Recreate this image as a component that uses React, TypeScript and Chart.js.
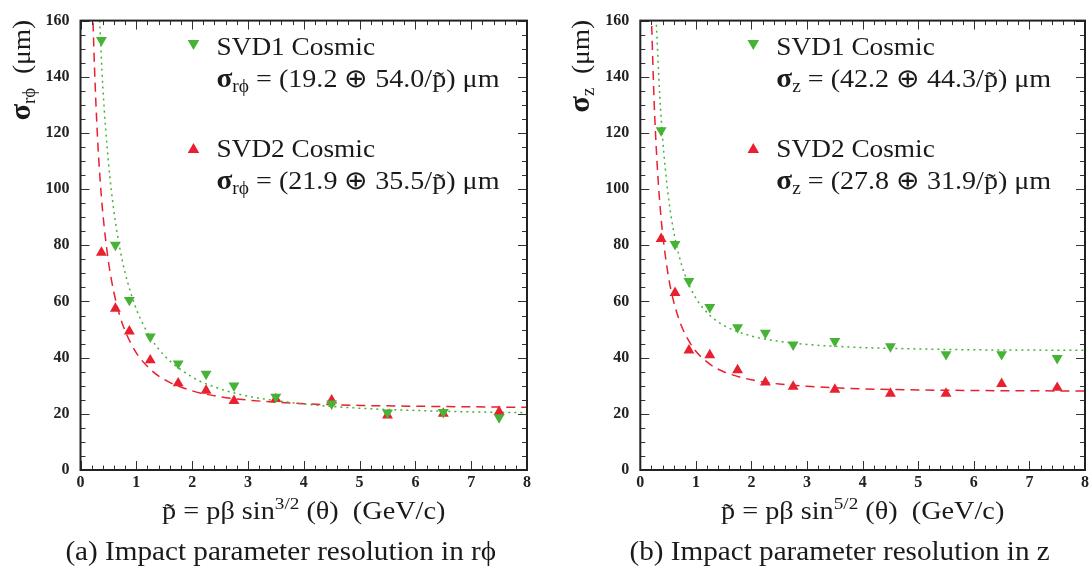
import React, { useEffect, useRef } from "react";
import { Chart, registerables } from "chart.js";

Chart.register(...registerables);

// ---------- data ----------
const pTilde = [0.375, 0.625, 0.875, 1.25, 1.75, 2.25, 2.75, 3.5, 4.5, 5.5, 6.5, 7.5];

const rphiSvd1 = [153, 80.1, 60.5, 47.5, 37.9, 34.2, 30.0, 26.0, 23.6, 20.4, 20.6, 18.7];
const rphiSvd2 = [77.4, 57.5, 49.4, 39.1, 30.9, 28.3, 24.6, 25.3, 24.8, 19.5, 20.1, 20.7];
const zSvd1 = [120.9, 80.4, 67.2, 58.0, 50.8, 48.8, 44.6, 45.9, 44.0, 41.2, 41.2, 39.8];
const zSvd2 = [82.3, 63.1, 42.6, 40.9, 35.6, 31.2, 29.7, 28.6, 27.2, 27.2, 30.7, 29.3];

// fitted curves
const rphiFit1P = [0.343, 0.4, 0.5, 0.6, 0.7, 0.8, 1.0, 1.25, 1.5, 2, 2.5, 3, 4, 5, 6, 7, 8];
const rphiFit1 = [160, 136.4, 109.7, 92.0, 79.5, 70.2, 57.3, 47.3, 40.8, 33.1, 28.9, 26.3, 23.5, 22.0, 21.2, 20.7, 20.4];
const rphiFit2P = [0.225, 0.25, 0.3, 0.35, 0.4, 0.5, 0.6, 0.7, 0.8, 1.0, 1.25, 1.5, 2, 2.5, 3, 4, 5, 6, 7, 8];
const rphiFit2 = [159.3, 143.7, 120.3, 103.8, 91.4, 74.3, 63.1, 55.2, 49.5, 41.7, 35.9, 32.2, 28.2, 26.1, 24.9, 23.6, 23.0, 22.7, 22.5, 22.3];
const zFit1P = [0.29, 0.35, 0.4, 0.5, 0.6, 0.7, 0.8, 1.0, 1.25, 1.5, 2, 2.5, 3, 4, 5, 6, 7, 8];
const zFit1 = [158.5, 133.4, 118.5, 98.1, 85.0, 76.1, 69.6, 61.2, 55.1, 51.5, 47.7, 45.8, 44.7, 43.6, 43.1, 42.8, 42.7, 42.6];
const zFit2P = [0.205, 0.25, 0.3, 0.35, 0.4, 0.5, 0.6, 0.7, 0.8, 1.0, 1.25, 1.5, 2, 2.5, 3, 4, 5, 6, 7, 8];
const zFit2 = [158.1, 130.6, 109.9, 95.3, 84.5, 69.6, 60.0, 53.4, 48.6, 42.3, 37.7, 35.0, 32.1, 30.6, 29.8, 28.9, 28.5, 28.3, 28.2, 28.1];

const xTickValues = [0, 1, 2, 3, 4, 5, 6, 7, 8];
const yTickValues = [0, 20, 40, 60, 80, 100, 120, 140, 160];

const legendNames = ["SVD1 Cosmic", "SVD2 Cosmic"];
const rphiFitText = ["19.2 ⊕ 54.0/", "21.9 ⊕ 35.5/"];
const zFitText = ["42.2 ⊕ 44.3/", "27.8 ⊕ 31.9/"];

// ---------- styles ----------
const GREEN = "#46b236";
const RED = "#e8202f";
const INK = "#1a1a1a";
const FONT = "'Liberation Serif', 'Times New Roman', serif";

type Seg = { t: string; size: number; bold?: boolean; dy?: number; tilde?: boolean };

function segFont(s: Seg) {
  return `${s.bold ? "bold " : ""}${s.size}px ${FONT}`;
}
function richWidth(ctx: CanvasRenderingContext2D, segs: Seg[]) {
  let w = 0;
  for (const s of segs) {
    ctx.font = segFont(s);
    w += ctx.measureText(s.t).width;
  }
  return w;
}
function drawRich(ctx: CanvasRenderingContext2D, segs: Seg[], x: number, y: number, sx = 1) {
  ctx.save();
  ctx.translate(x, y);
  ctx.scale(sx, 1);
  let cx = 0;
  ctx.textBaseline = "alphabetic";
  ctx.textAlign = "left";
  for (const s of segs) {
    ctx.font = segFont(s);
    const w = ctx.measureText(s.t).width;
    ctx.fillText(s.t, cx, s.dy || 0);
    if (s.tilde) {
      const tw = ctx.measureText("˜").width;
      ctx.fillText("˜", cx + (w - tw) / 2, (s.dy || 0) + s.size * 0.08);
    }
    cx += w;
  }
  ctx.restore();
}

type Panel = {
  width: number;
  areaLeft: number;
  padRight: number;
  svd1: number[];
  svd2: number[];
  fit1P: number[];
  fit1: number[];
  fit2P: number[];
  fit2: number[];
  sub: string;
  power: string;
  fitText: string[];
  caption: string;
};

const panels: Panel[] = [
  {
    width: 546, areaLeft: 80.5, padRight: 19,
    svd1: rphiSvd1, svd2: rphiSvd2,
    fit1P: rphiFit1P, fit1: rphiFit1, fit2P: rphiFit2P, fit2: rphiFit2,
    sub: "rϕ", power: "3/2", fitText: rphiFitText,
    caption: "(a) Impact parameter resolution in rϕ",
  },
  {
    width: 546, areaLeft: 94.3, padRight: 6.7,
    svd1: zSvd1, svd2: zSvd2,
    fit1P: zFit1P, fit1: zFit1, fit2P: zFit2P, fit2: zFit2,
    sub: "z", power: "5/2", fitText: zFitText,
    caption: "(b) Impact parameter resolution in z",
  },
];

function triangle(ctx: CanvasRenderingContext2D, x: number, y: number, down: boolean, color: string) {
  const hw = 5.8, hh = 5;
  ctx.beginPath();
  if (down) {
    ctx.moveTo(x - hw, y - hh);
    ctx.lineTo(x + hw, y - hh);
    ctx.lineTo(x, y + hh);
  } else {
    ctx.moveTo(x - hw, y + hh);
    ctx.lineTo(x + hw, y + hh);
    ctx.lineTo(x, y - hh);
  }
  ctx.closePath();
  ctx.fillStyle = color;
  ctx.fill();
}

function makeConfig(panel: Panel): any {
  const fitLine = (px: number[], py: number[], color: string, dash: number[]) => ({
    data: px.map((x, i) => ({ x, y: py[i] })),
    showLine: true,
    borderColor: color,
    borderWidth: 1.5,
    borderDash: dash,
    pointRadius: 0,
    fill: false,
    cubicInterpolationMode: "monotone",
    order: 2,
  });
  const marks = (vals: number[], color: string, rot: number) => ({
    data: pTilde.map((x, i) => ({ x, y: vals[i] })),
    showLine: false,
    pointStyle: "triangle",
    pointRadius: 6.3,
    pointRotation: rot,
    backgroundColor: color,
    borderColor: color,
    borderWidth: 0,
    order: 1,
  });

  const decor = {
    id: "decor" + panel.sub,
    afterDraw(chart: any) {
      const ctx: CanvasRenderingContext2D = chart.ctx;
      const a = chart.chartArea;
      const xs = chart.scales.x;
      const ys = chart.scales.y;
      ctx.save();
      // minor / major ticks (inward, all four sides)
      ctx.strokeStyle = "#333";
      ctx.lineWidth = 1;
      ctx.beginPath();
      for (let i = 0; i <= 40; i++) {
        const v = i * 0.2;
        const px = Math.round(xs.getPixelForValue(v)) + 0.5;
        const len = i % 5 === 0 ? 9 : 4.5;
        ctx.moveTo(px, a.bottom);
        ctx.lineTo(px, a.bottom - len);
        ctx.moveTo(px, a.top);
        ctx.lineTo(px, a.top + len);
      }
      for (let i = 0; i <= 32; i++) {
        const v = i * 5;
        const py = Math.round(ys.getPixelForValue(v)) + 0.5;
        const len = i % 4 === 0 ? 9 : 5;
        ctx.moveTo(a.left, py);
        ctx.lineTo(a.left + len, py);
        ctx.moveTo(a.right, py);
        ctx.lineTo(a.right - len, py);
      }
      ctx.stroke();
      // frame
      ctx.strokeStyle = "#222";
      ctx.lineWidth = 2;
      ctx.strokeRect(a.left, a.top, a.right - a.left, a.bottom - a.top);

      ctx.fillStyle = INK;
      // y title (rotated)
      const ySegs: Seg[] = [
        { t: "σ", size: 29, bold: true },
        { t: panel.sub, size: 18, dy: 5 },
        { t: "  (μm)", size: 26 },
      ];
      ctx.save();
      ctx.translate(a.left - 51, 20);
      ctx.rotate(-Math.PI / 2);
      const ysx = 1.05;
      const yw = richWidth(ctx, ySegs) * ysx;
      drawRich(ctx, ySegs, -yw, 0, ysx);
      ctx.restore();

      // x title
      const xSegs: Seg[] = [
        { t: "p", size: 25, tilde: true },
        { t: " = pβ sin", size: 25 },
        { t: panel.power, size: 17, dy: -10 },
        { t: " (θ)  (GeV/c)", size: 25 },
      ];
      const cx = (a.left + a.right) / 2;
      const xsx = 1.13;
      const xw = richWidth(ctx, xSegs) * xsx;
      drawRich(ctx, xSegs, cx - xw / 2, 519, xsx);

      // caption
      const capSegs: Seg[] = [{ t: panel.caption, size: 27 }];
      const csx = 1.08;
      const cw = richWidth(ctx, capSegs) * csx;
      drawRich(ctx, capSegs, cx - 23 - cw / 2, 560, csx);

      // legend
      const mx = a.left + 113;
      const tx = a.left + 136;
      triangle(ctx, mx, 45, true, GREEN);
      triangle(ctx, mx, 148, false, RED);
      ctx.fillStyle = INK;
      drawRich(ctx, [{ t: legendNames[0], size: 26 }], tx, 55, 1.05);
      drawRich(ctx, [{ t: legendNames[1], size: 26 }], tx, 157, 1.05);
      const formula = (ft: string): Seg[] => [
        { t: "σ", size: 27, bold: true },
        { t: panel.sub, size: 18, dy: 5 },
        { t: " = (" + ft, size: 26 },
        { t: "p", size: 26, tilde: true },
        { t: ") μm", size: 26 },
      ];
      drawRich(ctx, formula(panel.fitText[0]), tx, 87, 1.08);
      drawRich(ctx, formula(panel.fitText[1]), tx, 189, 1.08);
      ctx.restore();
    },
  };

  return {
    type: "scatter",
    data: {
      datasets: [
        fitLine(panel.fit1P, panel.fit1, GREEN, [2, 4]),
        fitLine(panel.fit2P, panel.fit2, RED, [9, 6]),
        marks(panel.svd1, GREEN, 180),
        marks(panel.svd2, RED, 0),
      ],
    },
    options: {
      animation: false,
      responsive: false,
      layout: { padding: { left: 0, right: panel.padRight, top: 14.7, bottom: 0 } },
      plugins: { legend: { display: false }, tooltip: { enabled: false } },
      scales: {
        x: {
          type: "linear",
          min: 0,
          max: 8,
          afterBuildTicks: (s: any) => {
            s.ticks = xTickValues.map((v) => ({ value: v }));
          },
          afterFit: (s: any) => {
            s.height = 102;
          },
          grid: { display: false, drawTicks: false },
          border: { display: false },
          ticks: {
            padding: 3,
            color: "#222",
            font: { family: FONT, size: 16, weight: "bold" },
            maxRotation: 0,
          },
        },
        y: {
          type: "linear",
          min: 0,
          max: 160,
          afterBuildTicks: (s: any) => {
            s.ticks = yTickValues.map((v) => ({ value: v }));
          },
          afterFit: (s: any) => {
            s.width = panel.areaLeft;
          },
          grid: { display: false, drawTicks: false },
          border: { display: false },
          ticks: {
            padding: 11,
            color: "#222",
            font: { family: FONT, size: 16, weight: "bold" },
          },
        },
      },
    },
    plugins: [decor],
  };
}

function PanelChart({ panel, left }: { panel: Panel; left: number }) {
  const ref = useRef<HTMLCanvasElement | null>(null);
  useEffect(() => {
    if (!ref.current) return;
    const chart = new Chart(ref.current, makeConfig(panel));
    return () => chart.destroy();
  }, [panel]);
  return (
    <canvas
      ref={ref}
      width={panel.width}
      height={572}
      style={{ position: "absolute", left, top: 0, width: panel.width, height: 572 }}
    />
  );
}

export default function App() {
  return (
    <div style={{ position: "absolute", left: 0, top: 0, width: 1092, height: 572, background: "#fff" }}>
      <PanelChart panel={panels[0]} left={0} />
      <PanelChart panel={panels[1]} left={546} />
    </div>
  );
}
